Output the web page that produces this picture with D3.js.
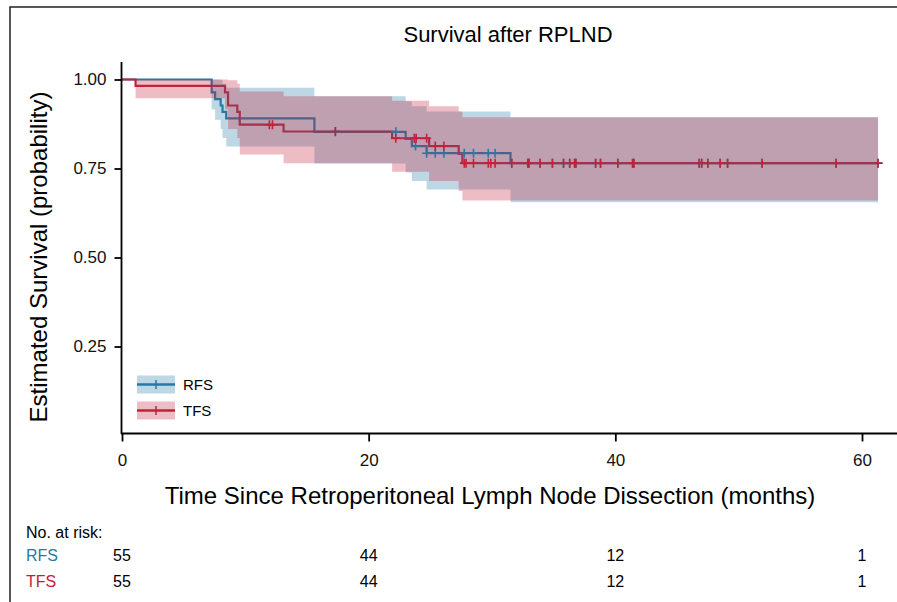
<!DOCTYPE html>
<html>
<head>
<meta charset="utf-8">
<script src="https://cdn.jsdelivr.net/npm/d3@7"></script>
<style>
  body { margin: 0; background: #fff; }
  svg { display: block; font-family: 'Liberation Sans', Arial, sans-serif; }
</style>
</head>
<body>
<svg id="chart" width="897" height="602"></svg>
<script>
// ---- data ----
const rfsTime  = [0, 7.27, 7.55, 8.0, 8.15, 8.45, 15.6, 23.0, 23.5, 24.7, 31.5];
const rfsSurv  = [1, .964, .945, .927, .909, .891, .853, .833, .813, .793, .765];
const rfsLower = [1, .916, .887, .861, .836, .812, .764, .739, .715, .691, .655];
const rfsUpper = [1, 1, 1, .998, .988, .977, .953, .939, .925, .910, .894];
const rfsCensor = [17.3, 22.2, 23.8, 24.7, 25.4, 26.1, 27.75, 28.5, 29.7, 30.25];

const tfsTime  = [0, 1.1, 8.35, 8.6, 9.35, 9.55, 13.1, 21.9, 24.9, 27.3, 27.6];
const tfsSurv  = [1, .982, .964, .927, .909, .873, .854, .835, .813, .791, .765];
const tfsLower = [1, .947, .916, .861, .836, .789, .765, .741, .715, .687, .660];
const tfsUpper = [1, 1, 1, .998, .988, .966, .953, .940, .925, .910, .894];
const tfsCensor = [11.95, 12.2, 17.3, 22.2, 23.7, 23.85, 24.7, 25.4, 26.1,
                   27.75, 27.9, 28.5, 29.7, 29.9, 30.25];

// censoring marks shared by both curves after the last events
const lateCensor = [31.6, 32.9, 33.0, 33.9, 34.9, 35.8, 36.3, 36.7, 36.8, 38.4, 38.8,
                    40.2, 41.4, 41.5, 46.8, 47.0, 47.5, 48.5, 49.1, 51.9, 57.9, 61.3];
const endTime = 61.3;

const riskTimes = [0, 20, 40, 60];
const rfsRisk = [55, 44, 12, 1];
const tfsRisk = [55, 44, 12, 1];

const xTicks = [0, 20, 40, 60];
const yTicks = [0.25, 0.5, 0.75, 1.0];

const blue = '#267aa5';
const red = '#c3203a';

// ---- scales ----
const svg = d3.select('#chart');
const x = d3.scaleLinear().domain([0, 60]).range([122, 862]);
const y = d3.scaleLinear().domain([0, 1]).range([435.5, 79.5]);

// frame around the figure
svg.append('path')
    .attr('d', 'M10,602V7H897')
    .attr('fill', 'none')
    .attr('stroke', '#222')
    .attr('stroke-width', 1.5);

svg.append('text')
    .attr('x', 508).attr('y', 42)
    .attr('text-anchor', 'middle')
    .style('font-size', '22px')
    .text('Survival after RPLND');

function build(time, surv, lower, upper) {
    const rows = time.map((t, i) => ({t, s: surv[i], lo: lower[i], hi: upper[i]}));
    const last = rows[rows.length - 1];
    rows.push({t: endTime, s: last.s, lo: last.lo, hi: last.hi});
    return rows;
}
function survAt(time, surv, t) {
    let v = surv[0];
    time.forEach((tt, i) => { if (tt <= t) v = surv[i]; });
    return v;
}

const series = [
    {name: 'RFS', color: blue, rows: build(rfsTime, rfsSurv, rfsLower, rfsUpper),
     marks: rfsCensor.concat(lateCensor).map(t => ({t, s: survAt(rfsTime, rfsSurv, t)}))},
    {name: 'TFS', color: red, rows: build(tfsTime, tfsSurv, tfsLower, tfsUpper),
     marks: tfsCensor.concat(lateCensor).map(t => ({t, s: survAt(tfsTime, tfsSurv, t)}))}
];

const line = d3.line().curve(d3.curveStepAfter).x(d => x(d.t)).y(d => y(d.s));
const area = d3.area().curve(d3.curveStepAfter)
    .x(d => x(d.t)).y0(d => y(d.lo)).y1(d => y(d.hi));

// step lines first, ribbons painted over them, censor marks on top
svg.append('g').selectAll('path')
    .data(series)
    .join('path')
    .attr('d', d => line(d.rows))
    .attr('fill', 'none')
    .attr('stroke', d => d.color)
    .attr('stroke-width', 2.2);

svg.append('g').selectAll('path')
    .data(series)
    .join('path')
    .attr('d', d => area(d.rows))
    .attr('fill', d => d.color)
    .attr('fill-opacity', 0.3);

const plus = 'M-4.5,0H4.5M0,-4.5V4.5';
series.forEach(sr => {
    svg.append('g').selectAll('path')
        .data(sr.marks)
        .join('path')
        .attr('transform', d => `translate(${x(d.t)},${y(d.s)})`)
        .attr('d', plus)
        .attr('stroke', sr.color)
        .attr('stroke-width', 1.6);
});

// ---- axes ----
const xAxis = svg.append('g')
    .attr('transform', 'translate(0,433.5)')
    .call(d3.axisBottom(x).tickValues(xTicks).tickFormat(d3.format('d'))
        .tickSize(8).tickPadding(12).tickSizeOuter(0));
xAxis.select('.domain').remove();
xAxis.append('path').attr('d', 'M121,0H897').attr('stroke', '#000').attr('stroke-width', 1.8);

const yAxis = svg.append('g')
    .attr('transform', 'translate(121.5,0)')
    .call(d3.axisLeft(y).tickValues(yTicks).tickFormat(d3.format('.2f'))
        .tickSize(7).tickPadding(8).tickSizeOuter(0));
yAxis.select('.domain').remove();
yAxis.append('path').attr('d', 'M0,62V434').attr('stroke', '#000').attr('stroke-width', 1.8);

svg.selectAll('.tick line').attr('stroke', '#000').attr('stroke-width', 1.8);
svg.selectAll('.tick text').style('font-size', '17px').attr('fill', '#111')
    .style('font-family', "'Liberation Sans', Arial, sans-serif");

svg.append('text')
    .attr('transform', 'translate(47,257) rotate(-90)')
    .attr('text-anchor', 'middle')
    .style('font-size', '24px')
    .text('Estimated Survival (probability)');

svg.append('text')
    .attr('x', 490).attr('y', 504)
    .attr('text-anchor', 'middle')
    .style('font-size', '24px')
    .text('Time Since Retroperitoneal Lymph Node Dissection (months)');

// ---- legend ----
const legend = svg.append('g').selectAll('g')
    .data(series)
    .join('g')
    .attr('transform', (d, i) => `translate(137,${384.5 + i * 26})`);
legend.append('rect')
    .attr('x', 0).attr('y', -9).attr('width', 38).attr('height', 18)
    .attr('fill', d => d.color).attr('fill-opacity', 0.3);
legend.append('line')
    .attr('x1', 0).attr('x2', 38)
    .attr('stroke', d => d.color).attr('stroke-width', 2.5);
legend.append('path')
    .attr('d', 'M19,-4.5V4.5')
    .attr('stroke', d => d.color).attr('stroke-width', 1.5);
legend.append('text')
    .attr('x', 46).attr('y', 5.5)
    .style('font-size', '15px')
    .text(d => d.name);

// ---- number at risk table ----
svg.append('text')
    .attr('x', 26).attr('y', 537.5)
    .style('font-size', '16px')
    .text('No. at risk:');

const riskRows = [
    {name: 'RFS', color: blue, counts: rfsRisk, yPos: 561},
    {name: 'TFS', color: red, counts: tfsRisk, yPos: 587}
];
riskRows.forEach(r => {
    svg.append('text')
        .attr('x', 26).attr('y', r.yPos)
        .attr('fill', r.color)
        .style('font-size', '16px')
        .text(r.name);
    svg.append('g').selectAll('text')
        .data(r.counts)
        .join('text')
        .attr('x', (d, i) => x(riskTimes[i]))
        .attr('y', r.yPos)
        .attr('text-anchor', 'middle')
        .style('font-size', '16px')
        .text(d => d);
});
</script>
</body>
</html>
